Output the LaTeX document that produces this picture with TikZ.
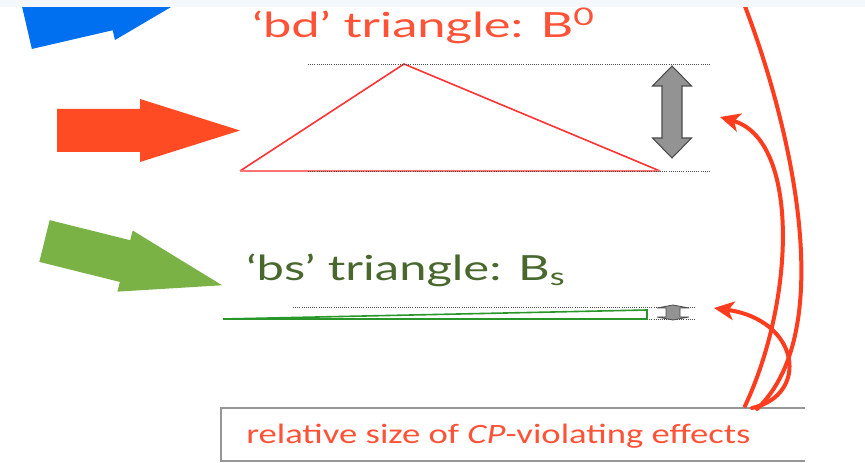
\documentclass[tikz,border=0pt]{standalone}
\usepackage{fontspec}
\setmainfont{Lato}
\newfontfamily\capfont{Carlito}
\usetikzlibrary{arrows.meta}
\definecolor{stripgray}{RGB}{244,247,251}
\definecolor{arrowblue}{RGB}{0,112,240}
\definecolor{arrowred}{RGB}{255,75,35}
\definecolor{arrowgreen}{RGB}{122,178,70}
\definecolor{bdred}{RGB}{255,82,55}
\definecolor{bsgreen}{RGB}{72,104,46}
\definecolor{trigreen}{RGB}{40,150,40}
\definecolor{curvered}{RGB}{255,60,30}
\definecolor{boxgray}{RGB}{150,150,150}
\tikzset{
  bigarrow/.pic={\fill[#1] (0,-21.5) -- (83,-21.5) -- (83,-31.5) -- (183,0) -- (83,31.5) -- (83,21.5) -- (0,21.5) -- cycle;}
}
\begin{document}
\begin{tikzpicture}[
  x=0.75pt, y=-0.75pt,
  guide/.style={densely dotted, gray!60!black, line width=0.6pt},
  sizebar/.style={fill=gray!85!white, draw=black!70, line width=0.8pt, line join=miter},
  label/.style={anchor=base west, inner sep=0pt, font=\fontsize{26}{30}\selectfont},
  cpcurve/.style={curvered, line width=3pt, line cap=round},
  cptip/.style={-{Stealth[length=15pt, width=14pt, inset=4pt]}}
]
  \useasboundingbox (0,0) rectangle (865,463);
  % Incoming arrows
  \pic[rotate=13] at (27,28) {bigarrow=arrowblue};
  \pic at (57,130.5) {bigarrow=arrowred};
  \pic[rotate=-14] at (44.5,241) {bigarrow=arrowgreen};
  \fill[stripgray] (0,0) rectangle (865,7);

  % 'bd' triangle
  \node[label, text=bdred] (bdlabel) at (252,38) {\scalebox{1.46}[1]{‘bd’ triangle: B\textsuperscript{0}}};
  \draw[red!80!white, line width=1.2pt, line join=miter] (240,171) -- (404,64) -- (660,171);
  \draw[red!55!white, line width=1.8pt] (240,171) -- (660,171);
  \foreach \y in {64,171} {
    \draw[guide] (308,\y) -- (710,\y);
  }
  \draw[sizebar] (672,66) -- (691.5,86) -- (682,86) -- (682,138) -- (691.5,138) -- (672,158)
    -- (652.5,138) -- (662,138) -- (662,86) -- (652.5,86) -- cycle;

  % 'bs' triangle
  \node[label, text=bsgreen] (bslabel) at (246,281) {\scalebox{1.41}[1]{‘bs’ triangle: B\textsubscript{s}}};
  \foreach \y in {307,319} {
    \draw[guide] (293,\y) -- (695,\y);
  }
  \draw[trigreen, line width=1.2pt] (223,319) -- (647,310) -- (647,319) -- cycle;
  \draw[trigreen, line width=2.2pt] (223,319) -- (450,319);
  \draw[sizebar, line width=0.6pt] (673,305) -- (689,308) -- (680,308) -- (680,317) -- (689,317) -- (673,320)
    -- (657,317) -- (666,317) -- (666,308) -- (657,308) -- cycle;

  % Caption box
  \draw[boxgray, line width=1.2pt] (805,408) -- (221,408) -- (221,461) -- (805,461);
  \node[anchor=base west, inner sep=0pt, text=bdred, font=\capfont\fontsize{21}{25}\selectfont] (caption) at (246,444)
    {\scalebox{1.31}[1]{relative size of \textit{CP}-violating effects}};

  % Red curves
  \coordinate (topend) at (741,-4);
  \coordinate (footA) at (757,409);
  \coordinate (footB) at (745,406);
  \coordinate (footC) at (752,408);
  \coordinate (bdtip) at (720,117);
  \coordinate (bstip) at (714,308);
  \draw[cpcurve] (topend) .. controls (790,120) and (840,330) .. (footA);
  \draw[cpcurve, cptip] (footB) .. controls (795,300) and (800,140) .. (bdtip);
  \draw[cpcurve, cptip] (footC) .. controls (810,395) and (800,320) .. (bstip);
  \fill[stripgray] (600,0) rectangle (865,7);
\end{tikzpicture}
\end{document}
